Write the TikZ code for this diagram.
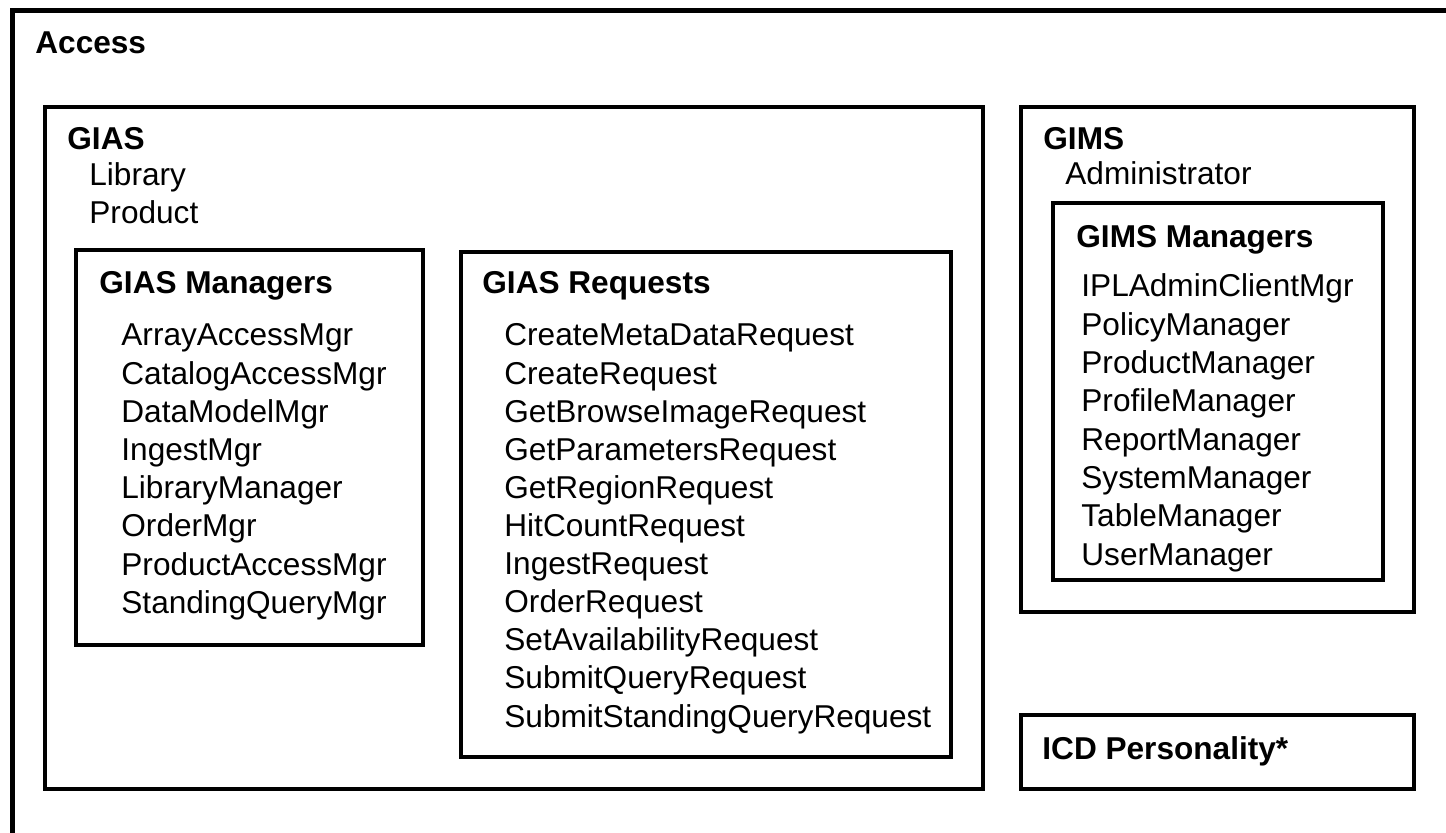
\documentclass[tikz,border=0pt]{standalone}
\usepackage{fontspec}
\setmainfont{Liberation Sans}
\begin{document}
\begin{tikzpicture}[x=0.5pt,y=-0.5pt,
  box/.style={draw=black, line width=2.25pt},
  lbl/.style={anchor=base west, inner sep=0pt, font=\fontsize{15.8}{19}\selectfont},
  hdr/.style={anchor=base west, inner sep=0pt, font=\fontsize{15.8}{19}\selectfont\bfseries}]
\clip (0,0) rectangle (1446,833);
\fill[white] (0,0) rectangle (1446,833);
% outer Access box (extends past right and bottom edge)
\draw[box] (12.5,10.5) rectangle (1490,890);
\node[hdr] (access) at (35,54) {Access};
% GIAS
\draw[box] (45,107) rectangle (983,789);
\node[hdr] (gias) at (67,150) {GIAS};
\node[lbl] (library) at (89,186) {Library};
\node[lbl] (product) at (89,224) {Product};
% GIAS Managers
\draw[box] (76,250) rectangle (423,645);
\node[hdr] (giasmgr) at (99,294) {GIAS Managers};
\foreach \t [count=\i from 0] in {ArrayAccessMgr,CatalogAccessMgr,DataModelMgr,IngestMgr,LibraryManager,OrderMgr,ProductAccessMgr,StandingQueryMgr}
  \node[lbl] (gm\i) at (121,{346+38.2*\i}) {\t};
% GIAS Requests
\draw[box] (461,252) rectangle (951,757);
\node[hdr] (giasreq) at (482,294) {GIAS Requests};
\foreach \t [count=\i from 0] in {CreateMetaDataRequest,CreateRequest,GetBrowseImageRequest,GetParametersRequest,GetRegionRequest,HitCountRequest,IngestRequest,OrderRequest,SetAvailabilityRequest,SubmitQueryRequest,SubmitStandingQueryRequest}
  \node[lbl] (gr\i) at (504,{346+38.1*\i}) {\t};
% GIMS
\draw[box] (1021,107) rectangle (1414,612);
\node[hdr] (gims) at (1043,150) {GIMS};
\node[lbl] (admin) at (1065,185) {Administrator};
% GIMS Managers
\draw[box] (1053,203) rectangle (1383,580);
\node[hdr] (gimsmgr) at (1076,248) {GIMS Managers};
\foreach \t [count=\i from 0] in {IPLAdminClientMgr,PolicyManager,ProductManager,ProfileManager,ReportManager,SystemManager,TableManager,UserManager}
  \node[lbl] (im\i) at (1081,{297+38.3*\i}) {\t};
% ICD Personality
\draw[box] (1021,715) rectangle (1414,789);
\node[hdr] (icd) at (1042,759) {ICD Personality*};
\end{tikzpicture}
\end{document}
